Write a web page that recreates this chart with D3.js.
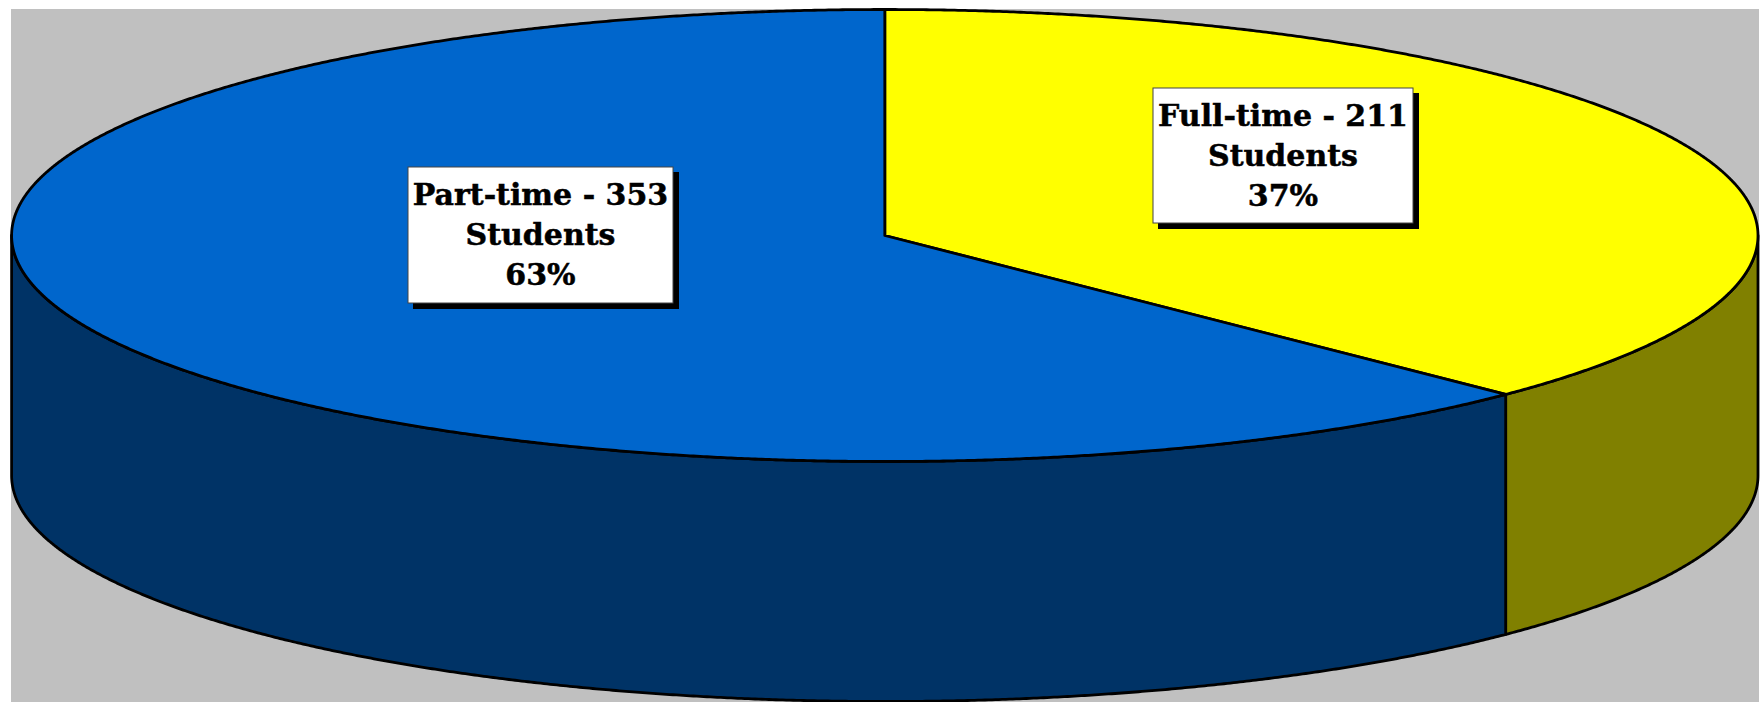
<!DOCTYPE html>
<html>
<head>
<meta charset="utf-8">
<script src="https://cdn.jsdelivr.net/npm/d3@7"></script>
<style>
html, body { margin: 0; padding: 0; background: #fff; }
svg { display: block; }
</style>
</head>
<body>
<div id="chart"></div>
<script>
// data
var categories = ["Full-time", "Part-time"];
var students = [211, 353];
var percents = ["37%", "63%"];
var topColors = ["#ffff00", "#0066cc"];
var sideColors = ["#808000", "#003366"];

var width = 1764,
    height = 702;

// ellipse of the pie's top face, and the wall height
var cx = 884.8, cy = 235.5, rx = 873.2, ry = 226, depth = 240;

// label boxes, left/top/right/bottom
var boxes = [[1153, 88, 1413, 223], [408, 167, 673, 303]];

var svg = d3.select("#chart")
    .append("svg")
    .attr("width", width)
    .attr("height", height);

svg.append("rect")
    .attr("x", 11)
    .attr("y", 9)
    .attr("width", 1748)
    .attr("height", 693)
    .attr("fill", "#c0c0c0");

var xScale = d3.scaleLinear().domain([-1, 1]).range([cx - rx, cx + rx]);
var yScale = d3.scaleLinear().domain([-1, 1]).range([cy - ry, cy + ry]);

var pie = d3.pie().sort(null);
var slices = pie(students);

function angles(a0, a1) {
    return d3.range(a0, a1, 0.004).concat([a1]);
}

var rim = d3.line()
    .x(function(a) { return xScale(Math.sin(a)); })
    .y(function(a) { return yScale(-Math.cos(a)); });

var lower = d3.line()
    .x(function(a) { return xScale(Math.sin(a)); })
    .y(function(a) { return yScale(-Math.cos(a)) + depth; });

// side walls: only the front half of the rim can be seen
slices.forEach(function(s, i) {
    var a0 = Math.max(s.startAngle, Math.PI / 2),
        a1 = Math.min(s.endAngle, Math.PI * 1.5);
    var d = rim(angles(a0, a1)) + "L" + lower(angles(a0, a1).reverse()).slice(1) + "Z";
    svg.append("path")
        .attr("d", d)
        .attr("fill", sideColors[i])
        .attr("stroke", "#000")
        .attr("stroke-width", 2.8)
        .attr("stroke-linejoin", "round");
});

// top face
slices.forEach(function(s, i) {
    var d = "M" + xScale(0) + "," + yScale(0) + "L" + rim(angles(s.startAngle, s.endAngle)).slice(1) + "Z";
    svg.append("path")
        .attr("d", d)
        .attr("fill", topColors[i])
        .attr("stroke", "#000")
        .attr("stroke-width", 2.8)
        .attr("stroke-linejoin", "round");
});

// labels
categories.forEach(function(c, i) {
    var b = boxes[i];
    var g = svg.append("g");
    g.append("rect")
        .attr("x", b[0] + 5)
        .attr("y", b[1] + 5)
        .attr("width", b[2] - b[0] + 1)
        .attr("height", b[3] - b[1] + 1)
        .attr("fill", "#000");
    g.append("rect")
        .attr("x", b[0])
        .attr("y", b[1])
        .attr("width", b[2] - b[0])
        .attr("height", b[3] - b[1])
        .attr("fill", "#fff")
        .attr("stroke", "#444")
        .attr("stroke-width", 1);
    var lines = [c + " - " + students[i], "Students", percents[i]];
    g.selectAll("text")
        .data(lines)
        .enter()
        .append("text")
        .attr("x", (b[0] + b[2]) / 2)
        .attr("y", function(d, j) { return b[1] + 38 + j * 40; })
        .attr("text-anchor", "middle")
        .attr("font-family", "'DejaVu Serif', serif")
        .attr("font-weight", "bold")
        .attr("font-size", 30)
        .attr("fill", "#000")
        .attr("stroke", "#000")
        .attr("stroke-width", 0.5)
        .text(function(d) { return d; });
});
</script>
</body>
</html>
